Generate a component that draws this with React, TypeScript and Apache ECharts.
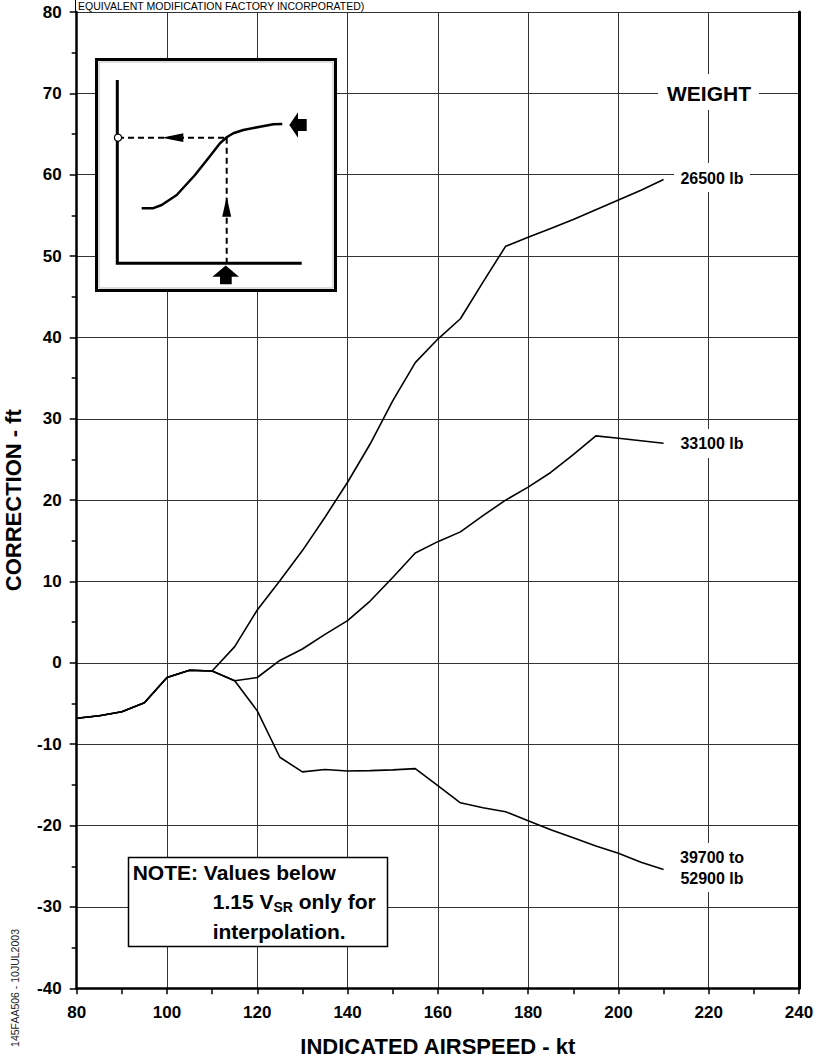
import React, { useEffect, useRef } from "react";
import * as echarts from "echarts";

const FONT = "'Liberation Sans', Arial, Helvetica, sans-serif";

// Shared low-speed portion (kt, ft)
const sharedPart: number[][] = [
  [80, -6.8], [85, -6.5], [90, -6.0], [95, -4.9], [100, -1.8], [105, -0.9], [110, -1.0],
];

const w26500: number[][] = [
  [115, 2.0], [120, 6.5], [125, 10.1], [130, 13.8], [135, 17.9], [140, 22.2], [145, 26.9],
  [150, 32.2], [155, 36.9], [160, 39.8], [165, 42.3], [170, 46.8], [175, 51.2], [180, 52.3],
  [185, 53.4], [190, 54.5], [195, 55.7], [200, 56.9], [205, 58.1], [210, 59.4],
];

const w33100: number[][] = [
  [115, -2.2], [120, -1.8], [125, 0.3], [130, 1.7], [135, 3.5], [140, 5.2], [145, 7.6],
  [150, 10.5], [155, 13.5], [160, 14.9], [165, 16.1], [170, 18.1], [175, 20.0], [180, 21.6],
  [185, 23.4], [190, 25.6], [195, 27.9], [200, 27.6], [205, 27.3], [210, 27.0],
];

const w39700to52900: number[][] = [
  [115, -2.2], [120, -5.9], [125, -11.6], [130, -13.4], [135, -13.1], [140, -13.3], [145, -13.25],
  [150, -13.15], [155, -13.0], [160, -15.1], [165, -17.2], [170, -17.8], [175, -18.3], [180, -19.4],
  [185, -20.5], [190, -21.5], [195, -22.5], [200, -23.4], [205, -24.5], [210, -25.4],
];

const seriesNames = ["26500 lb", "33100 lb", "39700 to 52900 lb"];
const xTitle = "INDICATED AIRSPEED - kt";
const yTitle = "CORRECTION - ft";

export default function App() {
  const ref = useRef<HTMLDivElement>(null);

  useEffect(() => {
    if (!ref.current) return;
    const chart = echarts.init(ref.current, null, { renderer: "svg" });

    const lineSeries = (name: string, tail: number[][]) => ({
      name,
      type: "line",
      data: [...sharedPart, ...tail],
      symbol: "none",
      smooth: false,
      lineStyle: { color: "#000", width: 1.6 },
      z: 5,
    });

    const boldText = (
      text: string,
      x: number,
      y: number,
      size: number,
      align = "center",
      vAlign = "middle"
    ) => ({
      type: "text",
      x,
      y,
      z: 102,
      style: {
        text,
        fontSize: size,
        fontWeight: "bold",
        fontFamily: FONT,
        fill: "#000",
        align,
        verticalAlign: vAlign,
      },
    });

    const whiteRect = (x: number, y: number, w: number, h: number) => ({
      type: "rect",
      z: 101,
      shape: { x, y, width: w, height: h },
      style: { fill: "#fff", stroke: null },
    });

    const graphic: any[] = [
      // header strip
      {
        type: "text",
        x: 78,
        y: 11.5,
        z: 102,
        style: {
          text: "EQUIVALENT MODIFICATION FACTORY INCORPORATED)",
          fontSize: 10.5,
          fontFamily: FONT,
          fill: "#000",
          align: "left",
          verticalAlign: "bottom",
        },
      },
      { type: "line", z: 102, shape: { x1: 75.5, y1: 0, x2: 75.5, y2: 12 }, style: { stroke: "#000", lineWidth: 1 } },

      // inset box
      {
        type: "rect",
        z: 101,
        shape: { x: 96.5, y: 59.5, width: 239, height: 231 },
        style: { fill: "#fff", stroke: "#000", lineWidth: 3 },
      },
      {
        type: "rect",
        z: 101,
        shape: { x: 99, y: 62, width: 234, height: 226 },
        style: { fill: null, stroke: "#bbb", lineWidth: 1 },
      },
      {
        type: "polyline",
        z: 102,
        shape: { points: [[117.3, 80], [117.3, 263.3], [301.7, 263.3]] },
        style: { stroke: "#000", lineWidth: 3, fill: null },
      },
      {
        type: "polyline",
        z: 102,
        shape: {
          points: [
            [141.7, 208.3], [152.7, 208.3], [161.7, 205], [176.7, 195], [195, 175], [208.3, 158.3],
            [220, 143.3], [226.7, 137.3], [233.3, 133.3], [243.3, 130], [260, 126.7], [273.3, 124.3], [282.3, 124],
          ],
        },
        style: { stroke: "#000", lineWidth: 2.5, fill: null, lineJoin: "round" },
      },
      {
        type: "line",
        z: 102,
        shape: { x1: 118, y1: 137.7, x2: 226.7, y2: 137.7 },
        style: { stroke: "#000", lineWidth: 2, lineDash: [6, 4] },
      },
      {
        type: "line",
        z: 102,
        shape: { x1: 226.7, y1: 137.7, x2: 226.7, y2: 263 },
        style: { stroke: "#000", lineWidth: 2, lineDash: [6, 4] },
      },
      {
        type: "polygon",
        z: 103,
        shape: { points: [[161.7, 137.7], [183.3, 133.3], [183.3, 142.1]] },
        style: { fill: "#000" },
      },
      {
        type: "polygon",
        z: 103,
        shape: { points: [[226.7, 196.7], [222.2, 216.7], [231.2, 216.7]] },
        style: { fill: "#000" },
      },
      {
        type: "polygon",
        z: 103,
        shape: {
          points: [[289.3, 125], [298, 112.3], [298, 119], [306.7, 119], [306.7, 131], [298, 131], [298, 137.7]],
        },
        style: { fill: "#000" },
      },
      {
        type: "polygon",
        z: 103,
        shape: {
          points: [[225.7, 265.5], [239, 276.7], [231.7, 276.7], [231.7, 284.3], [220, 284.3], [220, 276.7], [212.4, 276.7]],
        },
        style: { fill: "#000" },
      },
      {
        type: "circle",
        z: 104,
        shape: { cx: 118, cy: 137.7, r: 3.6 },
        style: { fill: "#fff", stroke: "#000", lineWidth: 1.2 },
      },

      // curve labels
      whiteRect(658, 74, 101, 36),
      boldText("WEIGHT", 709, 93.5, 21),
      whiteRect(674, 163, 76, 29),
      boldText(seriesNames[0], 712, 178, 16),
      whiteRect(674, 429, 76, 29),
      boldText(seriesNames[1], 712, 443.5, 16),
      whiteRect(676, 843, 72, 49),
      boldText("39700 to", 712, 857.5, 16),
      boldText("52900 lb", 712, 878.5, 16),

      // note box
      {
        type: "rect",
        z: 101,
        shape: { x: 128.5, y: 857.5, width: 259, height: 89 },
        style: { fill: "#fff", stroke: "#000", lineWidth: 1.5 },
      },
      {
        type: "text",
        x: 132.7,
        y: 860.7,
        z: 102,
        style: {
          text: "NOTE: Values below",
          fontSize: 21,
          lineHeight: 24,
          fontWeight: "bold",
          fontFamily: FONT,
          fill: "#000",
          align: "left",
          verticalAlign: "top",
        },
      },
      {
        type: "text",
        x: 212.7,
        y: 889.7,
        z: 102,
        style: {
          text: "1.15 V{sub|SR} only for",
          fontSize: 21,
          lineHeight: 24,
          fontWeight: "bold",
          fontFamily: FONT,
          fill: "#000",
          align: "left",
          verticalAlign: "top",
          rich: {
            sub: {
              fontSize: 14,
              lineHeight: 14,
              fontWeight: "bold",
              fontFamily: FONT,
              fill: "#000",
              verticalAlign: "bottom",
            },
          },
        },
      },
      {
        type: "text",
        x: 212.7,
        y: 919,
        z: 102,
        style: {
          text: "interpolation.",
          fontSize: 21,
          lineHeight: 24,
          fontWeight: "bold",
          fontFamily: FONT,
          fill: "#000",
          align: "left",
          verticalAlign: "top",
        },
      },

      // document reference, rotated
      {
        type: "text",
        x: 15,
        y: 988,
        rotation: Math.PI / 2,
        z: 102,
        style: {
          text: "145FAA506 - 10JUL2003",
          fontSize: 10.5,
          fontFamily: FONT,
          fill: "#222",
          align: "center",
          verticalAlign: "middle",
        },
      },
    ];

    const axisLabelStyle = {
      fontSize: 17,
      fontWeight: "bold",
      color: "#000",
      fontFamily: FONT,
    };
    const titleStyle = {
      fontSize: 22,
      fontWeight: "bold",
      color: "#000",
      fontFamily: FONT,
    };

    const option: any = {
      animation: false,
      backgroundColor: "#fff",
      grid: {
        left: 76.7,
        right: 17,
        top: 12,
        bottom: 71.7,
        containLabel: false,
        outerBoundsMode: "none",
      },
      xAxis: {
        type: "value",
        min: 80,
        max: 240,
        interval: 20,
        name: xTitle,
        nameLocation: "middle",
        nameGap: 47,
        nameTextStyle: titleStyle,
        axisLine: { show: true, onZero: false, lineStyle: { color: "#000", width: 2.5 } },
        axisTick: { show: true, length: 6, lineStyle: { color: "#000", width: 1.5 } },
        minorTick: { show: true, splitNumber: 2, length: 6, lineStyle: { color: "#000", width: 1.5 } },
        axisLabel: { ...axisLabelStyle, margin: 16 },
        splitLine: { show: true, lineStyle: { color: "#333", width: 1 } },
      },
      yAxis: [
        {
          type: "value",
          min: -40,
          max: 80,
          interval: 10,
          name: yTitle,
          nameLocation: "middle",
          nameGap: 52,
          nameTextStyle: titleStyle,
          axisLine: { show: true, onZero: false, lineStyle: { color: "#000", width: 2.5 } },
          axisTick: { show: true, length: 7, lineStyle: { color: "#000", width: 1.5 } },
          minorTick: { show: true, splitNumber: 2, length: 5, lineStyle: { color: "#000", width: 1.5 } },
          axisLabel: { ...axisLabelStyle, margin: 15 },
          splitLine: { show: true, lineStyle: { color: "#333", width: 1 } },
        },
        {
          type: "value",
          position: "right",
          min: -40,
          max: 80,
          interval: 10,
          axisLine: { show: true, onZero: false, lineStyle: { color: "#000", width: 3 } },
          axisTick: { show: false },
          axisLabel: { show: false },
          splitLine: { show: false },
        },
      ],
      series: [
        lineSeries(seriesNames[0], w26500),
        lineSeries(seriesNames[1], w33100),
        lineSeries(seriesNames[2], w39700to52900),
      ],
      graphic,
    };

    chart.setOption(option);
    return () => chart.dispose();
  }, []);

  return (
    <div
      ref={ref}
      style={{ position: "absolute", left: 0, top: 0, width: 816, height: 1060 }}
    />
  );
}
